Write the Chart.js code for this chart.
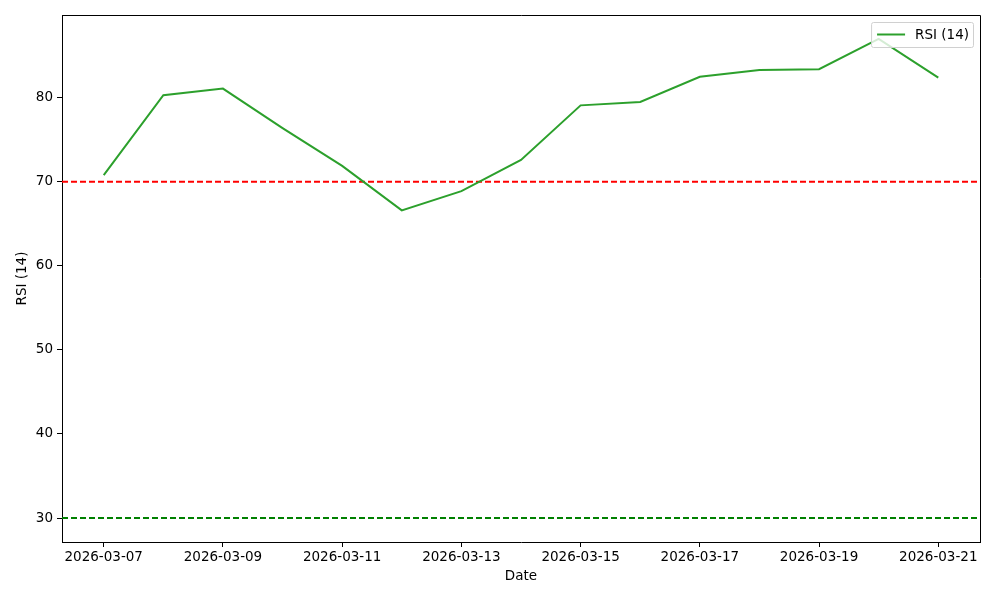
<!DOCTYPE html>
<html>
<head>
<meta charset="utf-8">
<script src="https://cdn.jsdelivr.net/npm/chart.js@4.4.1/dist/chart.umd.min.js"></script>
<style>
  html, body { margin: 0; padding: 0; background: #fff; }
  #wrap { width: 1000px; height: 600px; position: relative; }
</style>
</head>
<body>
<div id="wrap"><canvas id="chart"></canvas></div>
<script>
  // data
  const dates = ["2026-03-07", "2026-03-08", "2026-03-09", "2026-03-10", "2026-03-11", "2026-03-12", "2026-03-13",
                 "2026-03-14", "2026-03-15", "2026-03-16", "2026-03-17", "2026-03-18", "2026-03-19", "2026-03-20", "2026-03-21"];
  const rsi = [70.8, 80.3, 81.1, 76.4, 71.9, 66.6, 68.9, 72.6, 79.1, 79.5, 82.5, 83.3, 83.4, 87.0, 82.4];
  const overbought = 70;
  const oversold = 30;
  const xTicks = [0, 2, 4, 6, 8, 10, 12, 14];
  const yTicks = [30, 40, 50, 60, 70, 80];

  const FONT = "'DejaVu Sans', sans-serif";
  const n = dates.length;

  // mpl-style legend in the upper right + full frame
  const mplExtras = {
    id: "mplExtras",
    afterDraw(chart) {
      const { ctx, chartArea: a } = chart;
      ctx.save();
      ctx.strokeStyle = "#000";
      ctx.lineWidth = 1;
      ctx.beginPath();
      ctx.moveTo(a.left, a.top + 0.5);
      ctx.lineTo(a.right + 0.5, a.top + 0.5);
      ctx.lineTo(a.right + 0.5, a.bottom);
      ctx.stroke();

      const ds = chart.data.datasets[0];
      ctx.font = "13.5px " + FONT;
      const tw = ctx.measureText(ds.label).width;
      const w = tw + 48, h = 25;
      const x = a.right - 7 - w, y = a.top + 7;
      ctx.fillStyle = "rgba(255,255,255,0.8)";
      ctx.strokeStyle = "#d0d0d0";
      ctx.beginPath();
      ctx.roundRect(x + 0.5, y + 0.5, w, h, 2);
      ctx.fill();
      ctx.stroke();
      ctx.strokeStyle = ds.borderColor;
      ctx.lineWidth = 2;
      ctx.beginPath();
      ctx.moveTo(x + 6, y + h / 2);
      ctx.lineTo(x + 34, y + h / 2);
      ctx.stroke();
      ctx.fillStyle = "#000";
      ctx.textBaseline = "middle";
      ctx.fillText(ds.label, x + 44, y + h / 2 + 1);
      ctx.restore();
    }
  };

  const hline = (v, color) => ({
    type: "line",
    label: "",
    data: [{ x: -0.7, y: v }, { x: n - 1 + 0.7, y: v }],
    borderColor: color,
    borderWidth: 2,
    borderDash: [6, 3],
    pointRadius: 0,
    fill: false
  });

  new Chart(document.getElementById("chart"), {
    type: "line",
    data: {
      datasets: [
        {
          label: "RSI (14)",
          data: rsi.map((v, i) => ({ x: i, y: v })),
          borderColor: "#2ca02c",
          borderWidth: 2,
          pointRadius: 0,
          fill: false,
          tension: 0
        },
        hline(overbought, "#ff0000"),
        hline(oversold, "#008000")
      ]
    },
    plugins: [mplExtras],
    options: {
      responsive: true,
      maintainAspectRatio: false,
      animation: false,
      layout: { padding: { top: 15, right: 20, left: 0, bottom: 0 } },
      plugins: { legend: { display: false }, tooltip: { enabled: false } },
      scales: {
        x: {
          type: "linear",
          min: -0.7,
          max: n - 1 + 0.7,
          afterBuildTicks: s => { s.ticks = xTicks.map(v => ({ value: v })); },
          afterFit: s => { s.height = 58; },
          ticks: {
            color: "#000",
            font: { family: FONT, size: 13.5 },
            padding: 2,
            maxRotation: 0,
            callback: v => dates[v]
          },
          grid: { display: true, drawOnChartArea: false, drawTicks: true, tickLength: 5, color: "#000" },
          border: { display: true, color: "#000", width: 1 },
          title: { display: true, text: "Date", color: "#000", font: { family: FONT, size: 13.5 }, padding: { top: 2, bottom: 15 } }
        },
        y: {
          min: 27.15,
          max: 89.85,
          afterBuildTicks: s => { s.ticks = yTicks.map(v => ({ value: v })); },
          afterFit: s => { s.width = 62; },
          ticks: { color: "#000", font: { family: FONT, size: 13.5 }, padding: 4 },
          grid: { display: true, drawOnChartArea: false, drawTicks: true, tickLength: 5, color: "#000" },
          border: { display: true, color: "#000", width: 1 },
          title: { display: true, text: "RSI (14)", color: "#000", font: { family: FONT, size: 13.5 }, padding: { top: 14, bottom: 4 } }
        }
      }
    }
  });
</script>
</body>
</html>
